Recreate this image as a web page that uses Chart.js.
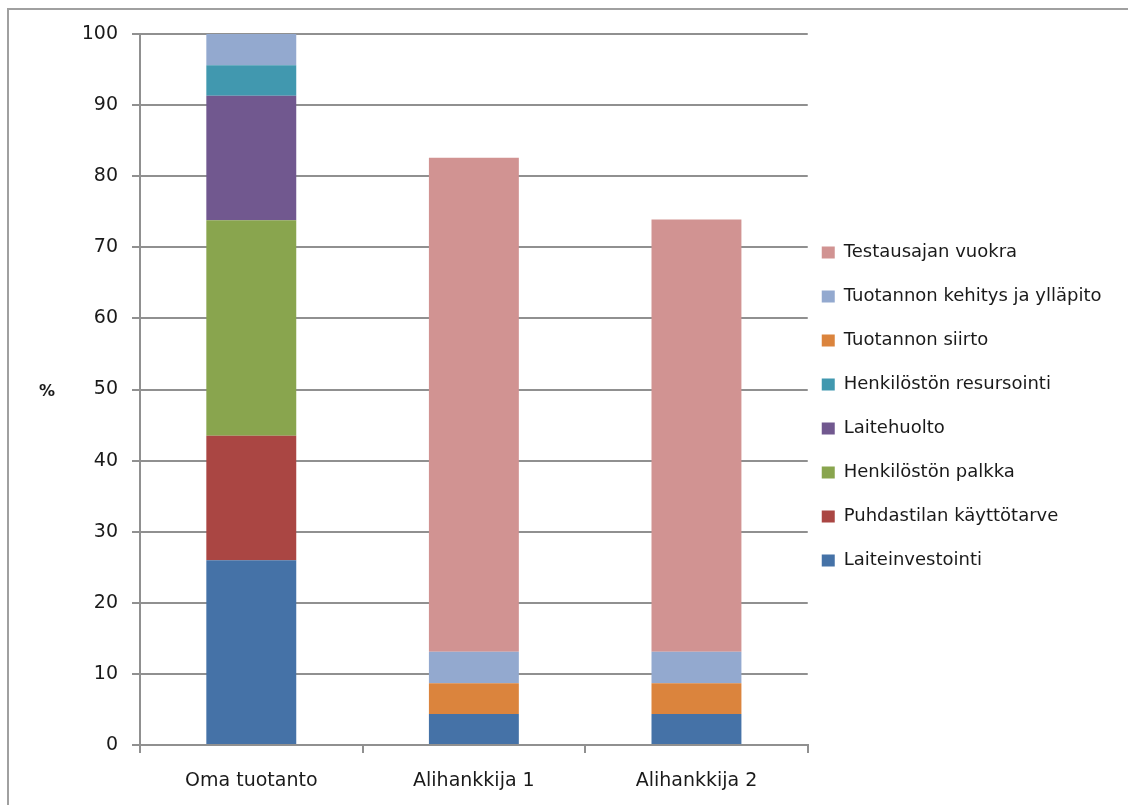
<!DOCTYPE html>
<html>
<head>
<meta charset="utf-8">
<script src="https://cdn.jsdelivr.net/npm/chart.js@4"></script>
<style>
  body { margin: 0; background: #fff; }
  #frame { position: absolute; left: 7px; top: 8px; width: 1300px; height: 900px; border-top: 2px solid #a0a0a0; border-left: 2px solid #a0a0a0; }
  #wrap { position: absolute; left: 0; top: 0; }
</style>
</head>
<body>
<div id="frame"></div>
<div id="wrap"><canvas id="costChart" width="1128" height="805"></canvas></div>
<script>
// Categories and series (% of total cost)
const categories = ['Oma tuotanto', 'Alihankkija 1', 'Alihankkija 2'];
const laiteinvestointi = [26.0, 4.35, 4.35];
const puhdastilanKayttotarve = [17.5, 0, 0];
const henkilostonPalkka = [30.3, 0, 0];
const laitehuolto = [17.5, 0, 0];
const henkilostonResursointi = [4.3, 0, 0];
const tuotannonSiirto = [0, 4.35, 4.35];
const tuotannonKehitys = [4.4, 4.4, 4.4];
const testausajanVuokra = [0, 69.5, 60.8];
const yTicks = [0, 10, 20, 30, 40, 50, 60, 70, 80, 90, 100];

const font = "'DejaVu Sans', Verdana, sans-serif";

// "%" axis title drawn horizontally, like the original
const yTitle = {
  id: 'yTitle',
  afterDraw(chart) {
    const ctx = chart.ctx;
    ctx.save();
    ctx.font = 'bold 16px ' + font;
    ctx.fillStyle = '#1a1a1a';
    ctx.textAlign = 'center';
    ctx.textBaseline = 'middle';
    ctx.fillText('%', 47, 392);
    ctx.restore();
  }
};

// nudge the legend block closer to the plot and let it use the full right side
const legendNudge = {
  id: 'legendNudge',
  beforeDraw(chart) {
    const lg = chart.legend;
    lg.left = chart.chartArea.right + 14 - 26;
    lg.right = chart.width;
    lg.width = lg.right - lg.left;
    lg.top -= 13;
    lg.bottom -= 13;
    lg.height = lg.bottom - lg.top;
  }
};

new Chart(document.getElementById('costChart'), {
  type: 'bar',
  data: {
    labels: categories,
    datasets: [
      { label: 'Laiteinvestointi', data: laiteinvestointi, backgroundColor: '#4572A7' },
      { label: 'Puhdastilan käyttötarve', data: puhdastilanKayttotarve, backgroundColor: '#AA4643' },
      { label: 'Henkilöstön palkka', data: henkilostonPalkka, backgroundColor: '#89A54E' },
      { label: 'Laitehuolto', data: laitehuolto, backgroundColor: '#71588F' },
      { label: 'Henkilöstön resursointi', data: henkilostonResursointi, backgroundColor: '#4198AF' },
      { label: 'Tuotannon siirto', data: tuotannonSiirto, backgroundColor: '#DB843D' },
      { label: 'Tuotannon kehitys ja ylläpito', data: tuotannonKehitys, backgroundColor: '#93A9CF' },
      { label: 'Testausajan vuokra', data: testausajanVuokra, backgroundColor: '#D19392' }
    ]
  },
  options: {
    responsive: false,
    animation: false,
    layout: { padding: { left: 84, top: 34, right: 79, bottom: 0 } },
    datasets: { bar: { categoryPercentage: 1, barPercentage: 0.404 } },
    plugins: {
      legend: {
        position: 'right',
        reverse: true,
        labels: {
          boxWidth: 13,
          boxHeight: 12,
          padding: 26,
          color: '#1a1a1a',
          font: { family: font, size: 18 }
        }
      },
      tooltip: { enabled: false }
    },
    scales: {
      x: {
        stacked: true,
        afterFit(axis) { axis.height = 60; },
        grid: { display: true, drawOnChartArea: false, drawTicks: true, tickLength: 8, color: '#909090', lineWidth: 2 },
        border: { color: '#909090', width: 2 },
        ticks: { color: '#1a1a1a', padding: 17, font: { family: font, size: 19 } }
      },
      y: {
        stacked: true,
        min: 0,
        max: 100,
        afterFit(axis) { axis.width = 56; },
        afterBuildTicks(axis) { axis.ticks = yTicks.map(v => ({ value: v })); },
        grid: { color: '#909090', lineWidth: 2, tickLength: 8 },
        border: { color: '#909090', width: 2 },
        ticks: { color: '#1a1a1a', padding: 14, font: { family: font, size: 19 } }
      }
    }
  },
  plugins: [yTitle, legendNudge]
});
</script>
</body>
</html>
